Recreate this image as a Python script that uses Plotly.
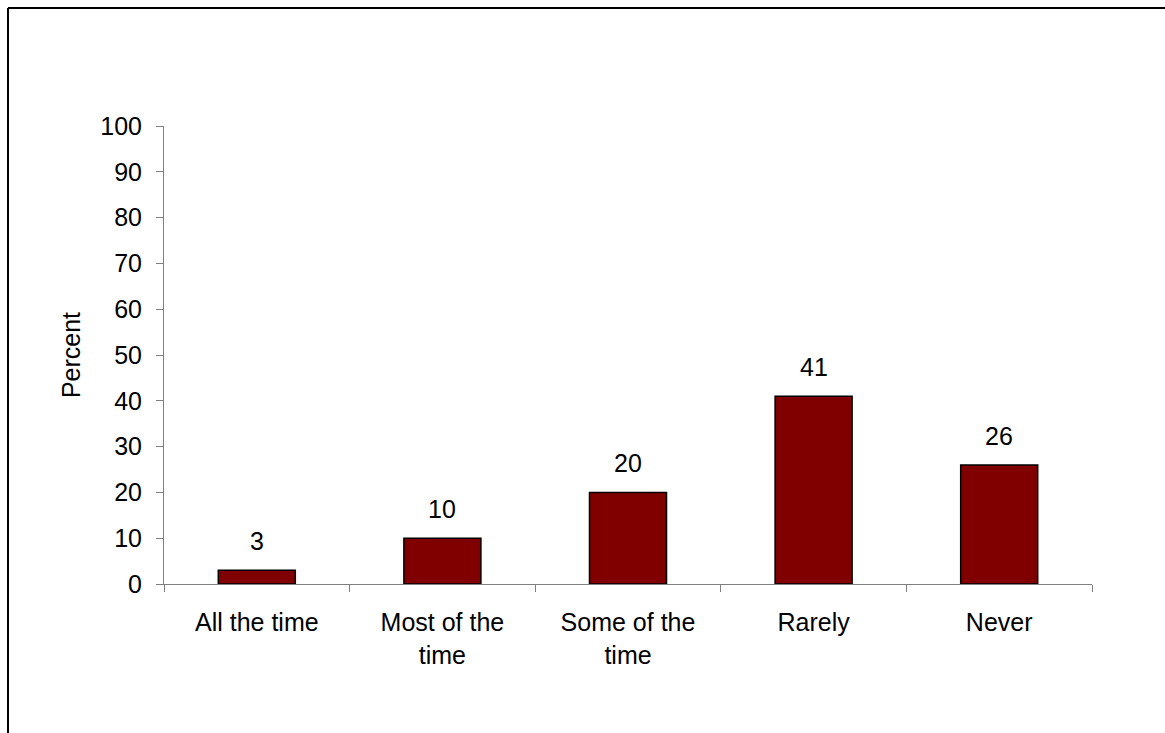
import plotly.graph_objects as go

categories = ["All the time", "Most of the<br>time", "Some of the<br>time", "Rarely", "Never"]
values = [3, 10, 20, 41, 26]
y_ticks = [0, 10, 20, 30, 40, 50, 60, 70, 80, 90, 100]

FONT = "Liberation Sans, Arial, sans-serif"
FS = 25
W, H = 1165, 733
L, R, T, B = 164, 73, 126, 149
pw, ph = W - L - R, H - T - B

fig = go.Figure()
fig.add_trace(go.Bar(
    x=categories, y=values,
    marker=dict(color="#800000", line=dict(color="#000000", width=1.5)),
    cliponaxis=False,
))

for c, v in zip(categories, values):
    fig.add_annotation(x=c, y=v, text=str(v), showarrow=False,
                       yanchor="bottom", yshift=13,
                       font=dict(family=FONT, size=FS, color="#000"))

# outer frame (extends beyond the right and bottom edges)
x0 = (8 - L) / pw
y0 = 1 + (T - 8) / ph
fig.add_shape(type="line", xref="paper", yref="paper", x0=x0, x1=x0, y0=-1, y1=y0,
              line=dict(color="#000", width=2))
fig.add_shape(type="line", xref="paper", yref="paper", x0=x0, x1=1.5, y0=y0, y1=y0,
              line=dict(color="#000", width=2))

fig.update_layout(
    width=W, height=H,
    margin=dict(l=L, r=R, t=T, b=B),
    paper_bgcolor="white", plot_bgcolor="white",
    bargap=0.585,
    showlegend=False,
    font=dict(family=FONT, size=FS, color="#000"),
)
fig.update_xaxes(
    showline=True, linecolor="#808080", linewidth=1,
    ticks="outside", ticklen=7, tickcolor="#808080", tickson="boundaries",
    ticklabelstandoff=16,
    showgrid=False, tickfont=dict(family=FONT, size=FS, color="#000"),
)
fig.update_yaxes(
    range=[0, 100], tickvals=y_ticks, ticktext=[str(t) for t in y_ticks],
    showline=True, linecolor="#808080", linewidth=1,
    ticks="outside", ticklen=7, tickcolor="#808080",
    ticklabelstandoff=9,
    showgrid=False, zeroline=False,
    tickfont=dict(family=FONT, size=FS, color="#000"),
    title=dict(text="Percent", font=dict(family=FONT, size=25, color="#000"), standoff=12),
)

fig.write_html("out.html")
